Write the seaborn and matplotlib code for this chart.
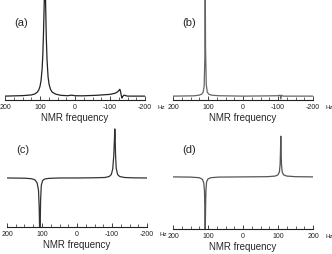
import numpy as np
import pandas as pd
import seaborn as sns
import matplotlib.pyplot as plt
from matplotlib.ticker import MultipleLocator, FixedLocator, FixedFormatter

sns.set_style('white')
plt.rcParams['font.family'] = ['Liberation Sans', 'DejaVu Sans']

# spectra (frequency in Hz, intensity arbitrary)
freq_a = [200, 150, 125, 115, 108, 104, 100, 97, 94, 92, 90, 88, 87, 86, 85, 84, 82, 80, 77,
          74, 70, 65, 55, 40, 20, 10, 0, -20, -60, -100, -115, -122, -126, -128, -130, -132,
          -134, -136, -140, -150, -170, -200]
int_a = [0.0, 0.005, 0.012, 0.022, 0.04, 0.06, 0.1, 0.16, 0.28, 0.42, 0.65, 0.95, 1.15, 1.3,
         1.15, 0.95, 0.6, 0.38, 0.2, 0.12, 0.07, 0.04, 0.02, 0.008, 0.004, 0.01, 0.004, 0.003,
         0.008, 0.018, 0.03, 0.045, 0.06, 0.07, 0.05, 0.01, -0.02, -0.005, 0.01, 0.0, 0.0, 0.0]

freq_b = [200, 140, 125, 118, 114, 111, 109, 108, 107, 105, 102, 98, 90, 70, 0, -60, -100,
          -106, -108, -110, -115, -150, -200]
int_b = [0.0, 0.003, 0.01, 0.02, 0.04, 0.1, 0.4, 1.3, 0.5, 0.12, 0.04, 0.02, 0.01, 0.004, 0.0,
         0.002, 0.004, 0.01, -0.03, 0.008, 0.0, 0.0, 0.0]

freq_c = [200, 150, 130, 120, 114, 110, 108, 107, 106, 105, 104, 102, 98, 92, 80, 50, 0, -50,
          -80, -92, -98, -102, -105, -107, -108, -109, -110, -112, -116, -122, -135, -160, -200]
int_c = [0.0, -0.005, -0.015, -0.04, -0.1, -0.25, -0.6, -1.0, -1.3, -0.9, -0.45, -0.15, -0.05,
         -0.02, -0.008, 0.0, 0.0, 0.004, 0.01, 0.03, 0.07, 0.18, 0.45, 0.8, 1.0, 0.85, 0.5, 0.2,
         0.07, 0.03, 0.01, 0.003, 0.0]

freq_d = [200, 150, 125, 116, 112, 110, 109, 108, 107, 106, 104, 100, 92, 70, 0, -70, -92,
          -100, -104, -106, -107, -108, -109, -110, -112, -116, -125, -150, -200]
int_d = [0.0, -0.005, -0.02, -0.06, -0.15, -0.35, -0.8, -1.5, -0.8, -0.35, -0.12, -0.05, -0.02,
         -0.005, 0.0, 0.005, 0.02, 0.05, 0.12, 0.3, 0.6, 1.0, 0.6, 0.3, 0.12, 0.05, 0.02, 0.005, 0.0]

tick_pos = [200, 100, 0, -100, -200]
labels_abc = ['200', '100', '0', '-100', '-200']
labels_d = ['200', '100', '0', '100', '200']

panels = [
    ('(a)', freq_a, int_a, labels_abc, '#222222', (5, 145, 0, 101), (-0.04, 1.0)),
    ('(b)', freq_b, int_b, labels_abc, '#666666', (173, 313, 0, 101), (-0.04, 1.0)),
    ('(c)', freq_c, int_c, labels_abc, '#333333', (7, 147, 127, 228), (-1.0, 1.06)),
    ('(d)', freq_d, int_d, labels_d, '#555555', (173, 313, 127, 230), (-1.28, 1.25)),
]

W, H = 332, 255
fig = plt.figure(figsize=(W / 100, H / 100), dpi=100)

for name, fr, it, lab, col, (x0, x1, yt, yb), ylim in panels:
    ax = fig.add_axes([x0 / W, 1 - yb / H, (x1 - x0) / W, (yb - yt) / H])
    df = pd.DataFrame({'freq': fr, 'intensity': it})
    sns.lineplot(data=df, x='freq', y='intensity', ax=ax, color=col, lw=0.9, estimator=None)
    ax.set_xlim(200, -200)
    ax.set_ylim(*ylim)
    for s in ['left', 'top', 'right']:
        ax.spines[s].set_visible(False)
    ax.spines['bottom'].set_linewidth(0.8)
    ax.spines['bottom'].set_color('#222222')
    ax.set_yticks([])
    ax.set_ylabel('')
    ax.xaxis.set_major_locator(FixedLocator(tick_pos))
    ax.xaxis.set_major_formatter(FixedFormatter(lab))
    ax.xaxis.set_minor_locator(MultipleLocator(25))
    ax.tick_params(axis='x', which='major', direction='in', length=3, width=0.6,
                   labelsize=5, pad=2.5, bottom=True, colors='#222222')
    ax.tick_params(axis='x', which='minor', direction='in', length=2, width=0.5,
                   bottom=True, colors='#222222')
    ax.set_xlabel('NMR frequency', fontsize=7, labelpad=1)
    ax.annotate('Hz', xy=(1.0, 0), xycoords='axes fraction', xytext=(9, -5),
                textcoords='offset points', fontsize=4.5, ha='left', va='center')
    fig.text((x0 + 9) / W, 1 - (yt + 23) / H, name, fontsize=8, va='center')

fig.savefig('out.png', dpi=100)
